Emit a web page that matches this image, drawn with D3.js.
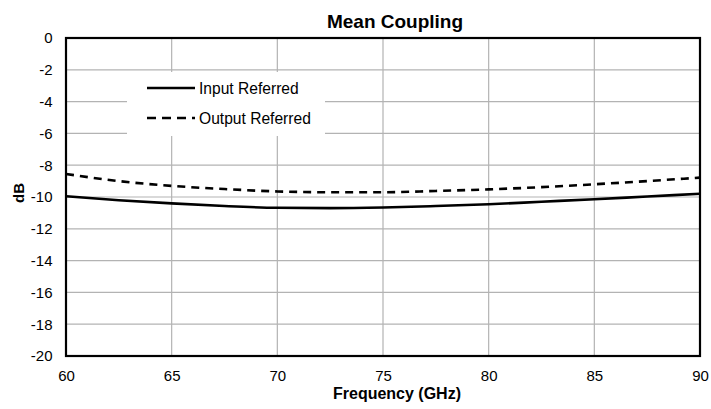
<!DOCTYPE html>
<html><head><meta charset="utf-8">
<script src="https://cdn.jsdelivr.net/npm/d3@7"></script>
<style>body{margin:0;background:#fff}svg{display:block;font-family:"Liberation Sans",Arial,sans-serif}</style>
</head><body><svg id="c" width="711" height="409"></svg>
<script>
const freq = [60, 62.5, 65, 67.5, 70, 72.5, 75, 77.5, 80, 82.5, 85, 87.5, 90];
const inputReferred = [-9.95, -10.2, -10.4, -10.57, -10.68, -10.7, -10.66, -10.57, -10.46, -10.3, -10.14, -9.97, -9.8];
const outputReferred = [-8.55, -9.0, -9.3, -9.5, -9.65, -9.7, -9.7, -9.62, -9.52, -9.38, -9.2, -9.0, -8.78];
const xTicks = [60, 65, 70, 75, 80, 85, 90];
const yTicks = [0, -2, -4, -6, -8, -10, -12, -14, -16, -18, -20];
const seriesNames = ["Input Referred", "Output Referred"];

const svg = d3.select("#c");
const L = 66, R = 700, T = 38, B = 356;
const x = d3.scaleLinear().domain([60, 90]).range([L, R]);
const y = d3.scaleLinear().domain([-20, 0]).range([B, T]);

// grid
svg.append("g").selectAll("line").data(xTicks).join("line")
  .attr("x1", d => x(d)).attr("x2", d => x(d)).attr("y1", T).attr("y2", B)
  .attr("stroke", "#b3b3b3").attr("stroke-width", 1.2);
svg.append("g").selectAll("line").data(yTicks).join("line")
  .attr("x1", L).attr("x2", R).attr("y1", d => y(d)).attr("y2", d => y(d))
  .attr("stroke", "#b3b3b3").attr("stroke-width", 1.2);

// axes (labels only)
const fmt = d => String(d);
const xAxis = svg.append("g").attr("transform", `translate(0,${B})`)
  .call(d3.axisBottom(x).tickValues(xTicks).tickSize(0).tickPadding(14).tickFormat(fmt));
const yAxis = svg.append("g").attr("transform", `translate(${L},0)`)
  .call(d3.axisLeft(y).tickValues(yTicks).tickSize(0).tickPadding(13.5).tickFormat(fmt));
[xAxis, yAxis].forEach(a => {
  a.select(".domain").remove();
  a.selectAll("text").attr("font-size", 15).attr("fill", "#000").attr("font-family", "Liberation Sans, Arial, sans-serif");
});

// legend box (white, covers grid)
svg.append("rect").attr("x", 127).attr("y", 72).attr("width", 198).attr("height", 64).attr("fill", "#fff");

// lines
const line = d3.line().x((d, i) => x(freq[i])).y(d => y(d)).curve(d3.curveMonotoneX);
svg.append("path").datum(inputReferred).attr("d", line)
  .attr("fill", "none").attr("stroke", "#000").attr("stroke-width", 2.6);
svg.append("path").datum(outputReferred).attr("d", line)
  .attr("fill", "none").attr("stroke", "#000").attr("stroke-width", 2.6).attr("stroke-dasharray", "8,6");

// frame
svg.append("rect").attr("x", L).attr("y", T).attr("width", R - L).attr("height", B - T)
  .attr("fill", "none").attr("stroke", "#000").attr("stroke-width", 2.2);

// legend
const leg = svg.append("g");
seriesNames.forEach((n, i) => {
  const ly = 88 + i * 30;
  leg.append("line").attr("x1", 147).attr("x2", 195).attr("y1", ly).attr("y2", ly)
    .attr("stroke", "#000").attr("stroke-width", 2.6).attr("stroke-dasharray", i ? "9,6" : null);
  leg.append("text").attr("x", 199).attr("y", ly + 6).attr("font-size", 15.6).text(n);
});

// titles
svg.append("text").attr("x", 395).attr("y", 27.5).attr("text-anchor", "middle")
  .attr("font-size", 19).attr("font-weight", "bold").text("Mean Coupling");
svg.append("text").attr("x", 397).attr("y", 398.5).attr("text-anchor", "middle")
  .attr("font-size", 16).attr("font-weight", "bold").text("Frequency (GHz)");
svg.append("text").attr("transform", "translate(23.5,193) rotate(-90)").attr("text-anchor", "middle")
  .attr("font-size", 15).attr("font-weight", "bold").text("dB");
</script></body></html>
